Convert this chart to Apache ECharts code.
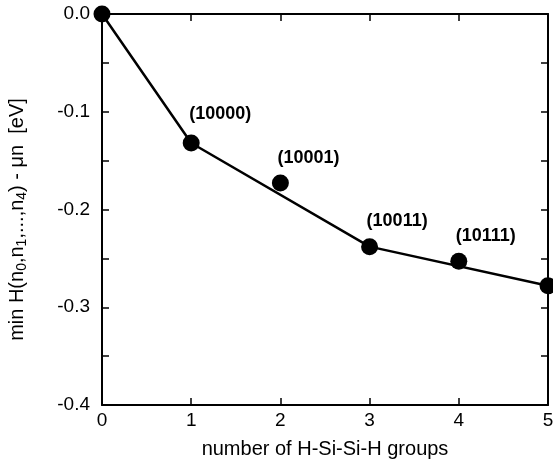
<!DOCTYPE html>
<html>
<head>
<meta charset="utf-8">
<script src="https://cdn.jsdelivr.net/npm/echarts@6/dist/echarts.min.js"></script>
<style>
    html, body { margin: 0; padding: 0; background: #fff; }
    #chart { width: 553px; height: 464px; }
</style>
</head>
<body>
<div id="chart"></div>
<script>
// number of H-Si-Si-H groups vs. min energy
var groups = [0, 1, 2, 3, 4, 5];
var energy = [0.0, -0.132, -0.173, -0.238, -0.253, -0.278];
var configs = ['', '(10000)', '(10001)', '(10011)', '(10111)', ''];
// points on the lower envelope
var hullX = [0, 1, 3, 5];
var hullY = [0.0, -0.132, -0.238, -0.278];

var font = '"Liberation Sans", Arial, Helvetica, sans-serif';

function labelFor(i) {
    if (!configs[i]) return {show: false};
    var pos = i === 1 ? [6.5, -20] : [5.5, -17];
    return {
        show: true,
        formatter: configs[i],
        position: pos,
        align: 'left',
        verticalAlign: 'middle',
        fontFamily: font,
        fontWeight: 'bold',
        fontSize: 18,
        color: '#000'
    };
}

var pts = groups.map(function (g, i) {
    return {value: [g, energy[i]], label: labelFor(i)};
});
var hull = hullX.map(function (g, i) {
    return [g, hullY[i]];
});

var myChart = echarts.init(document.getElementById('chart'));

var axisLine = {show: true, onZero: false, lineStyle: {color: '#000', width: 2}};
var tick = {show: true, inside: true, length: 7, lineStyle: {color: '#000', width: 1.5}};
var minor = {show: true, splitNumber: 2, length: 7, lineStyle: {color: '#000', width: 1.5}};

option = {
    animation: false,
    backgroundColor: '#fff',
    grid: {left: 102, right: 5, top: 14, bottom: 59, containLabel: false, outerBoundsMode: 'none'},
    xAxis: [
        {
            type: 'value',
            min: 0,
            max: 5,
            interval: 1,
            position: 'bottom',
            name: 'number of H-Si-Si-H groups',
            nameLocation: 'middle',
            nameGap: 34,
            nameTextStyle: {fontFamily: font, fontSize: 20, color: '#000'},
            axisLine: axisLine,
            axisTick: tick,
            axisLabel: {fontFamily: font, fontSize: 19, color: '#000', margin: 6},
            splitLine: {show: false}
        },
        {
            type: 'value',
            min: 0,
            max: 5,
            interval: 1,
            position: 'top',
            axisLine: axisLine,
            axisTick: tick,
            axisLabel: {show: false},
            splitLine: {show: false}
        }
    ],
    yAxis: [
        {
            type: 'value',
            min: -0.4,
            max: 0,
            interval: 0.1,
            position: 'left',
            name: 'min H(n{s|0},n{s|1},...,n{s|4}) - \u03bcn  [eV]',
            nameLocation: 'middle',
            nameGap: 73,
            nameTextStyle: {
                fontFamily: font, fontSize: 20, color: '#000',
                padding: [0, 20, 0, 0],
                rich: {s: {fontFamily: font, fontSize: 14, color: '#000', verticalAlign: 'bottom', padding: [10, 0, 0, 0]}}
            },
            axisLine: axisLine,
            axisTick: tick,
            minorTick: minor,
            axisLabel: {
                fontFamily: font, fontSize: 19, color: '#000', margin: 12,
                formatter: function (v) { return v === 0 ? '0.0' : v.toFixed(1); }
            },
            splitLine: {show: false}
        },
        {
            type: 'value',
            min: -0.4,
            max: 0,
            interval: 0.1,
            position: 'right',
            axisLine: axisLine,
            axisTick: tick,
            minorTick: minor,
            axisLabel: {show: false},
            splitLine: {show: false}
        }
    ],
    series: [
        {
            type: 'line',
            data: hull,
            showSymbol: false,
            symbol: 'none',
            lineStyle: {color: '#000', width: 2.5},
            clip: false,
            z: 2
        },
        {
            type: 'scatter',
            data: pts,
            symbol: 'circle',
            symbolSize: 17,
            itemStyle: {color: '#000', opacity: 1},
            clip: false,
            z: 3
        }
    ]
};
myChart.setOption(option);
</script>
</body>
</html>
